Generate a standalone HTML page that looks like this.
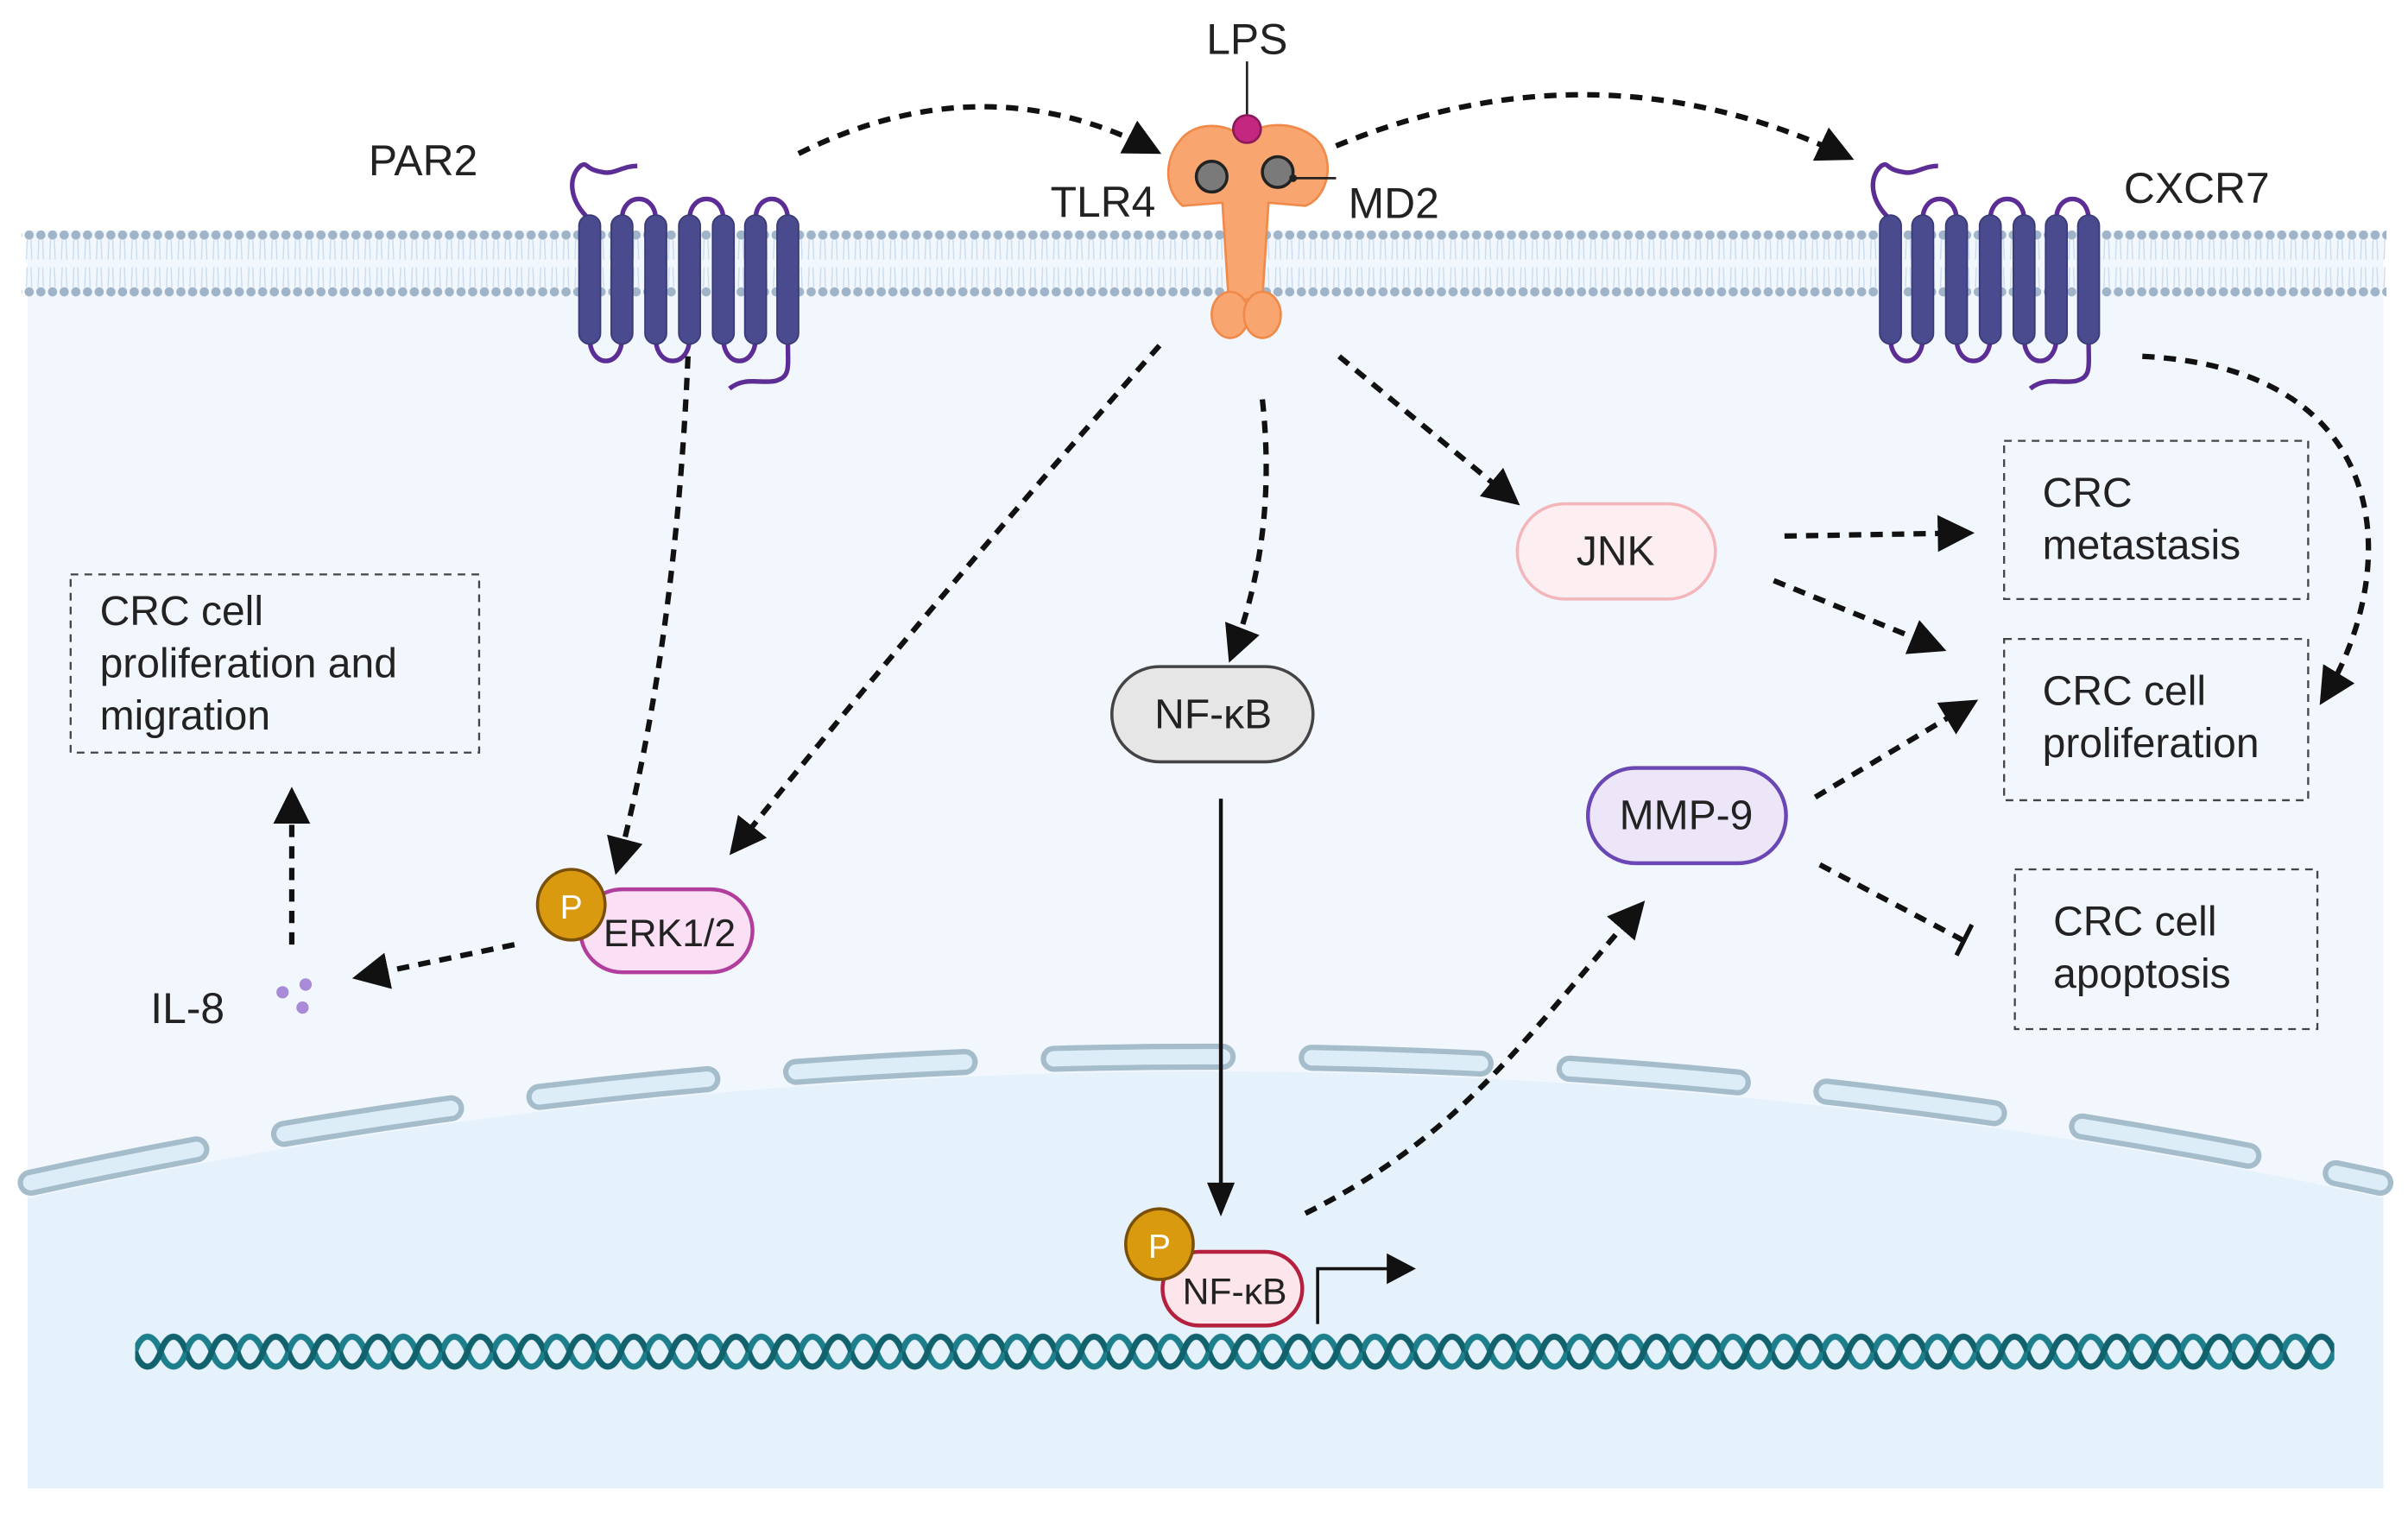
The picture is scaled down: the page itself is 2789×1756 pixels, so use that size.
<!DOCTYPE html>
<html><head><meta charset="utf-8"><style>
html,body{margin:0;padding:0;background:#fff}
svg{display:block}
text{font-family:"Liberation Sans",sans-serif;fill:#222}
</style></head><body>
<svg width="2789" height="1756" viewBox="0 0 1568 987" preserveAspectRatio="none" xmlns="http://www.w3.org/2000/svg">
<defs>
<marker id="a2" viewBox="0 0 10 10" refX="8" refY="5" markerWidth="24" markerHeight="24" orient="auto" markerUnits="userSpaceOnUse">
<path d="M0,0 L10,5 L0,10 z" fill="#111"/></marker>
<pattern id="mem" x="0" y="0" width="7.6" height="50" patternUnits="userSpaceOnUse">
<circle cx="3.8" cy="3" r="3" fill="#9fb4c8"/>
<circle cx="3.8" cy="40" r="3" fill="#9fb4c8"/>
<path d="M2.5,6 L2,19 M5,6 L5.5,19 M2.5,24 L2,37 M5,24 L5.5,37" stroke="#c9dcee" stroke-width="0.8"/>
</pattern>
<pattern id="dna" x="88" y="866" width="33.3" height="28" patternUnits="userSpaceOnUse">
<path d="M0,14 C4,1 12,1 16.6,14 C21,27 29,27 33.3,14" fill="none" stroke="#1d7f8c" stroke-width="4"/>
<path d="M0,14 C4,27 12,27 16.6,14 C21,1 29,1 33.3,14" fill="none" stroke="#11626d" stroke-width="4"/>
</pattern>
</defs>
<rect width="1568" height="987" fill="#fff"/>
<rect x="18" y="150" width="1534" height="819" fill="#f2f7fd"/>
<path d="M18,780 A3609,3609 0 0 1 1552,780 L1552,969 L18,969 z" fill="#e5f1fb"/>
<path d="M20,770 A3609,3609 0 0 1 1550,770" fill="none" stroke="#a5bccb" stroke-width="17" stroke-dasharray="110 58" stroke-linecap="round"/>
<path d="M20,770 A3609,3609 0 0 1 1550,770" fill="none" stroke="#dcedf8" stroke-width="10" stroke-dasharray="110 58" stroke-linecap="round"/>
<rect x="14" y="150" width="1540" height="46" fill="url(#mem)"/>
<rect x="88" y="866" width="1432" height="28" fill="url(#dna)"/>

<g id="gpcr">
<path d="M384,143 C370,130 370,115 378,108 C383,105 380,110 392,112 C400,114 405,108 415,108" fill="none" stroke="#5b2d95" stroke-width="3"/>
<path d="M405,143 C405,125 427,125 427,143 M449,143 C449,125 471,125 471,143 M492,143 C492,125 513,125 513,143" fill="none" stroke="#5b2d95" stroke-width="3"/>
<path d="M384,220 C384,240 405,240 405,220 M427,220 C427,240 449,240 449,220 M471,220 C471,240 492,240 492,220" fill="none" stroke="#5b2d95" stroke-width="3"/>
<path d="M513,220 C513,240 515,245 505,248 C495,250 485,245 475,253" fill="none" stroke="#5b2d95" stroke-width="3"/>
<g fill="#4a4a8e" stroke="#3a3a78" stroke-width="1">
<rect x="377" y="140" width="14" height="84" rx="7"/>
<rect x="398" y="140" width="14" height="84" rx="7"/>
<rect x="420" y="140" width="14" height="84" rx="7"/>
<rect x="442" y="140" width="14" height="84" rx="7"/>
<rect x="464" y="140" width="14" height="84" rx="7"/>
<rect x="485" y="140" width="14" height="84" rx="7"/>
<rect x="506" y="140" width="14" height="84" rx="7"/>
</g>
</g>
<use href="#gpcr" transform="translate(847,0)"/>

<g fill="#f9a56f" stroke="#f08a4a" stroke-width="1.5">
<path d="M768,92 C778,78 800,80 810,90 C820,78 848,78 860,94 C870,110 862,130 850,134 L826,132 L822,195 L800,195 L796,132 L770,134 C758,124 758,104 768,92 z"/>
<ellipse cx="801" cy="205" rx="12" ry="15"/>
<ellipse cx="822" cy="205" rx="12" ry="15"/>
</g>
<line x1="812" y1="40" x2="812" y2="78" stroke="#222" stroke-width="1.5"/>
<circle cx="812" cy="84" r="9" fill="#c4277f" stroke="#8a1a5a" stroke-width="1.5"/>
<circle cx="789" cy="115" r="10" fill="#7a7a7a" stroke="#222" stroke-width="2"/>
<circle cx="832" cy="112" r="10" fill="#7a7a7a" stroke="#222" stroke-width="2"/>
<line x1="842" y1="116" x2="870" y2="116" stroke="#222" stroke-width="1.5"/>
<circle cx="842" cy="116" r="2.5" fill="#222"/>

<g font-size="28">
<text x="812" y="35" text-anchor="middle">LPS</text>
<text x="240" y="114">PAR2</text>
<text x="684" y="141">TLR4</text>
<text x="878" y="142">MD2</text>
<text x="1383" y="132">CXCR7</text>
<text x="98" y="666">IL-8</text>
</g>

<g fill="none" stroke="#444" stroke-width="1.3" stroke-dasharray="5 4">
<rect x="46" y="374" width="266" height="116"/>
<rect x="1305" y="287" width="198" height="103"/>
<rect x="1305" y="416" width="198" height="105"/>
<rect x="1312" y="566" width="197" height="104"/>
</g>
<g font-size="27">
<text x="65" y="407">CRC cell</text>
<text x="65" y="441">proliferation and</text>
<text x="65" y="475">migration</text>
<text x="1330" y="330">CRC</text>
<text x="1330" y="364">metastasis</text>
<text x="1330" y="459">CRC cell</text>
<text x="1330" y="493">proliferation</text>
<text x="1337" y="609">CRC cell</text>
<text x="1337" y="643">apoptosis</text>
</g>

<g fill="none" stroke="#111" stroke-width="3.5" stroke-dasharray="8 6" marker-end="url(#a2)">
<path d="M520,100 Q640,40 752,98"/>
<path d="M870,95 Q1040,25 1203,102"/>
<path d="M448,232 Q440,420 402,565"/>
<path d="M755,225 Q600,400 478,553"/>
<path d="M822,260 Q832,350 802,427"/>
<path d="M872,232 L986,326"/>
<path d="M1162,349 L1281,347"/>
<path d="M1155,378 L1263,422"/>
<path d="M1395,232 C1560,240 1565,370 1513,455"/>
<path d="M1182,519 L1284,458"/>
<path d="M850,790 C950,740 990,680 1068,590"/>
<path d="M335,615 L234,636"/>
<path d="M190,615 L190,517"/>
</g>
<path d="M1185,563 L1278,612" fill="none" stroke="#111" stroke-width="3.5" stroke-dasharray="8 6"/>
<line x1="1274" y1="622" x2="1284" y2="602" stroke="#111" stroke-width="3"/>
<line x1="795" y1="520" x2="795" y2="775" stroke="#111" stroke-width="2.5"/>
<path d="M786,770 L804,770 L795,792 z" fill="#111"/>
<path d="M858,862 L858,826 L905,826" fill="none" stroke="#111" stroke-width="2"/>
<path d="M903,816 L922,826 L903,836 z" fill="#111"/>

<g fill="#a88ad6"><circle cx="184" cy="646" r="4"/><circle cx="199" cy="641" r="4"/><circle cx="197" cy="656" r="4"/></g>

<rect x="988" y="328" width="129" height="62" rx="31" fill="#fdeff1" stroke="#f3b6bb" stroke-width="2"/>
<text x="1052" y="368" font-size="27" text-anchor="middle">JNK</text>
<rect x="724" y="434" width="131" height="62" rx="31" fill="#e6e6e6" stroke="#444" stroke-width="2"/>
<text x="790" y="474" font-size="27" text-anchor="middle">NF-κB</text>
<rect x="1034" y="500" width="129" height="62" rx="31" fill="#ece6f8" stroke="#6a47b5" stroke-width="2.5"/>
<text x="1098" y="540" font-size="27" text-anchor="middle">MMP-9</text>
<rect x="378" y="579" width="112" height="54" rx="27" fill="#fbe0f5" stroke="#b13e9d" stroke-width="2.5"/>
<text x="436" y="616" font-size="25" text-anchor="middle">ERK1/2</text>
<ellipse cx="372" cy="589" rx="22" ry="23" fill="#d99a0f" stroke="#7a4f08" stroke-width="2"/>
<text x="372" y="598" font-size="22" text-anchor="middle" style="fill:#fff">P</text>
<rect x="757" y="815" width="91" height="48" rx="24" fill="#fde6eb" stroke="#b5203f" stroke-width="2.5"/>
<text x="804" y="849" font-size="24" text-anchor="middle">NF-κB</text>
<ellipse cx="755" cy="810" rx="22" ry="23" fill="#d99a0f" stroke="#7a4f08" stroke-width="2"/>
<text x="755" y="819" font-size="22" text-anchor="middle" style="fill:#fff">P</text>
</svg>
</body></html>
